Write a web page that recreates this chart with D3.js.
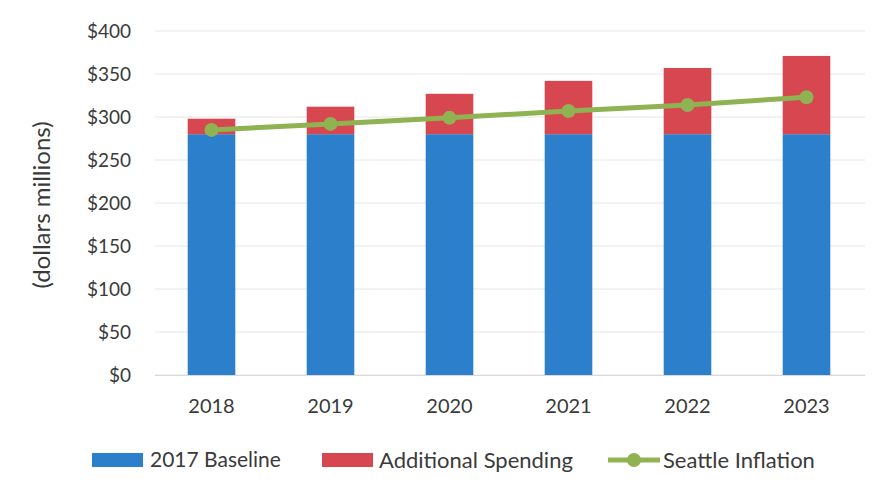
<!DOCTYPE html>
<html><head><meta charset="utf-8">
<script src="https://cdn.jsdelivr.net/npm/d3@7"></script>
<style>body{margin:0;background:#fff}svg{display:block}text{font-family:Lato,"Open Sans",sans-serif;fill:#3a3a3a}</style>
</head><body><svg id="c" width="884" height="495"></svg>
<script>
const years = ["2018","2019","2020","2021","2022","2023"];
const baseline = [280,280,280,280,280,280];
const additional = [18,32,47,62,77,91];
const inflation = [285,292,299,307,314,323];
const yTicks = [0,50,100,150,200,250,300,350,400];
const legendLabels = ["2017 Baseline","Additional Spending","Seattle Inflation"];
const colors = {base:"#2b7fcb", add:"#d6474f", inf:"#8fb352"};

const svg = d3.select("#c");
const x = d3.scaleBand().domain(years).range([152,866]).paddingInner(0.6).paddingOuter(0.3);
const y = d3.scaleLinear().domain([0,400]).range([375,31]);

svg.append("g").selectAll("line").data(yTicks).join("line")
  .attr("x1",155).attr("x2",865).attr("y1",d=>y(d)).attr("y2",d=>y(d))
  .attr("stroke","#e6e6e6").attr("stroke-width",1);

const yAxis = d3.axisLeft(y).tickValues(yTicks).tickFormat(d=>"$"+d).tickSize(0).tickPadding(0);
const ga = svg.append("g").attr("transform","translate(131,0)").call(yAxis);
ga.select(".domain").remove();
ga.selectAll("text").style("font-size","19px").attr("fill","#3a3a3a").attr("dy","0.35em");

const xAxis = d3.axisBottom(x).tickSize(0).tickPadding(0);
const gx = svg.append("g").attr("transform","translate(0,397)").call(xAxis);
gx.select(".domain").remove();
gx.selectAll("text").style("font-size","20px").attr("fill","#3a3a3a").attr("dy","0.8em");

svg.append("g").selectAll("rect").data(years).join("rect")
  .attr("x",d=>x(d)).attr("width",x.bandwidth())
  .attr("y",(d,i)=>y(baseline[i])).attr("height",(d,i)=>y(0)-y(baseline[i]))
  .attr("fill",colors.base);
svg.append("g").selectAll("rect").data(years).join("rect")
  .attr("x",d=>x(d)).attr("width",x.bandwidth())
  .attr("y",(d,i)=>y(baseline[i]+additional[i])).attr("height",(d,i)=>y(baseline[i])-y(baseline[i]+additional[i]))
  .attr("fill",colors.add);

svg.append("line").attr("x1",155).attr("x2",865).attr("y1",y(0)+0.5).attr("y2",y(0)+0.5).attr("stroke","#d9d9d9");

const line = d3.line().x((d,i)=>x(years[i])+x.bandwidth()/2).y(d=>y(d));
svg.append("path").datum(inflation).attr("d",line).attr("fill","none")
  .attr("stroke",colors.inf).attr("stroke-width",5);
svg.append("g").selectAll("circle").data(inflation).join("circle")
  .attr("cx",(d,i)=>x(years[i])+x.bandwidth()/2).attr("cy",d=>y(d)).attr("r",7)
  .attr("fill",colors.inf);

svg.append("text").attr("transform","translate(50,205) rotate(-90)")
  .attr("text-anchor","middle").style("font-size","24px").text("(dollars millions)");

const lg = svg.append("g");
lg.append("rect").attr("x",92).attr("y",453).attr("width",51).attr("height",14).attr("fill",colors.base);
lg.append("text").attr("x",150).attr("y",460).attr("dy","0.35em").style("font-size","21px").text(legendLabels[0]);
lg.append("rect").attr("x",322).attr("y",453).attr("width",51).attr("height",14).attr("fill",colors.add);
lg.append("text").attr("x",379).attr("y",460).attr("dy","0.35em").style("font-size","22px").text(legendLabels[1]);
lg.append("line").attr("x1",608).attr("x2",660).attr("y1",460).attr("y2",460).attr("stroke",colors.inf).attr("stroke-width",5);
lg.append("circle").attr("cx",634).attr("cy",460).attr("r",7).attr("fill",colors.inf);
lg.append("text").attr("x",663).attr("y",460).attr("dy","0.35em").style("font-size","22px").text(legendLabels[2]);
</script></body></html>
